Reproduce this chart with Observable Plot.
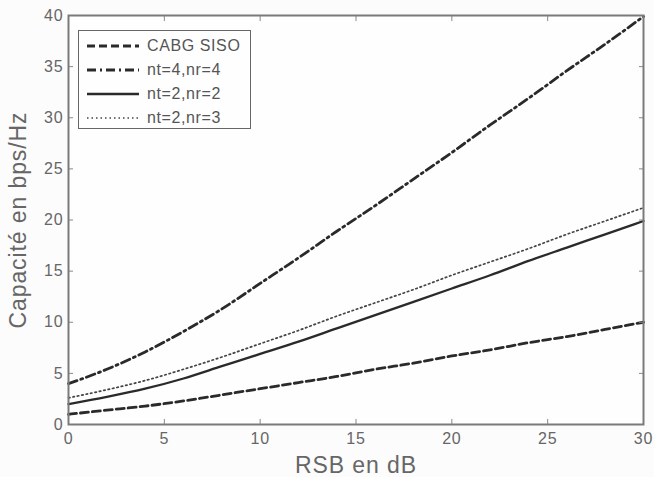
<!DOCTYPE html>
<html>
<head>
<meta charset="utf-8">
<script src="https://cdn.jsdelivr.net/npm/d3@7"></script>
<script src="https://cdn.jsdelivr.net/npm/@observablehq/plot@0.6"></script>
<style>
  html, body { margin: 0; padding: 0; background: #fcfcfc; }
  #wrap { position: relative; width: 654px; height: 477px; }
  #wrap svg { font-family: "Liberation Sans", Arial, sans-serif; }
  g[aria-label="y-axis tick label"] text, g[aria-label="x-axis tick label"] text { letter-spacing: 0.8px; }
  g[aria-label="y-axis label"] text, g[aria-label="x-axis label"] text { font-size: 23px; letter-spacing: 0.9px; }
  #legend {
    position: absolute; left: 78px; top: 30px; width: 171px; height: 97px;
    border: 1px solid #666; background: #fefefe;
    font-family: "Liberation Sans", Arial, sans-serif; font-size: 16px; letter-spacing: 0.6px; color: #555;
  }
  #legend .row { position: absolute; left: 8px; height: 20px; display: flex; align-items: center; }
  #legend svg { width: 52px; height: 8px; margin-right: 8px; }
</style>
</head>
<body>
<div id="wrap"></div>
<script>
// SNR (dB)
const snr = [0, 2, 4, 6, 8, 10, 12, 14, 16, 18, 20, 22, 24, 26, 28, 30];
// Capacities (bps/Hz)
const cabgSiso = [1.0, 1.4, 1.8, 2.3, 2.9, 3.5, 4.1, 4.7, 5.4, 6.0, 6.7, 7.3, 8.0, 8.6, 9.3, 10.0];
const nt4nr4   = [4.0, 5.4, 7.1, 9.1, 11.3, 13.8, 16.3, 18.9, 21.4, 24.0, 26.6, 29.3, 31.9, 34.6, 37.2, 39.9];
const nt2nr2   = [2.0, 2.7, 3.5, 4.5, 5.7, 6.9, 8.1, 9.4, 10.7, 12.0, 13.3, 14.6, 16.0, 17.3, 18.6, 19.9];
const nt2nr3   = [2.6, 3.4, 4.3, 5.4, 6.6, 7.9, 9.2, 10.6, 11.9, 13.2, 14.6, 15.9, 17.2, 18.6, 19.9, 21.2];
const seriesNames = ["CABG SISO", "nt=4,nr=4", "nt=2,nr=2", "nt=2,nr=3"];
const xTicks = [0, 5, 10, 15, 20, 25, 30];
const yTicks = [0, 5, 10, 15, 20, 25, 30, 35, 40];

const seriesValues = [cabgSiso, nt4nr4, nt2nr2, nt2nr3];
const styles = [
  {stroke: "#2a2a2a", strokeWidth: 2.8, strokeDasharray: "8,4"},
  {stroke: "#2a2a2a", strokeWidth: 2.8, strokeDasharray: "9,4,2,4"},
  {stroke: "#2a2a2a", strokeWidth: 2.3, strokeDasharray: null},
  {stroke: "#444", strokeWidth: 1.7, strokeDasharray: "1.5,3"}
];
const table = (vals) => snr.map((x, i) => ({x, y: vals[i]}));

const lineMarks = seriesValues.map((vals, k) => {
  const {strokeDasharray, ...rest} = styles[k];
  return Plot.line(table(vals), {x: "x", y: "y", curve: "monotone-x", ...rest,
    ...(strokeDasharray ? {strokeDasharray} : {})});
});

const tickColor = "#888";
const chart = Plot.plot({
  width: 654,
  height: 477,
  marginLeft: 68,
  marginRight: 11,
  marginTop: 15,
  marginBottom: 53,
  style: {background: "transparent", color: "#666", fontSize: "16px", fontFamily: "Liberation Sans, Arial, sans-serif"},
  x: {domain: [0, 30]},
  y: {domain: [0, 40]},
  marks: [
    Plot.frame({fill: "#fefefe"}),
    ...lineMarks,
    // tick labels + axis titles
    Plot.axisX(xTicks, {anchor: "bottom", tickSize: 0, tickPadding: 8, fontSize: 16, label: "RSB en dB", labelAnchor: "center", labelArrow: "none", labelOffset: 48}),
    Plot.axisY(yTicks, {anchor: "left", tickSize: 0, tickPadding: 5, fontSize: 16, label: "Capacité en bps/Hz", labelAnchor: "center", labelArrow: "none", labelOffset: 59}),
    // inward tick marks on all four sides
    Plot.axisX(xTicks, {anchor: "bottom", tickSize: 5, dy: -5, tickFormat: () => "", label: null, stroke: tickColor}),
    Plot.axisX(xTicks, {anchor: "top", tickSize: 5, dy: 5, tickFormat: () => "", label: null, stroke: tickColor}),
    Plot.axisY(yTicks, {anchor: "left", tickSize: 5, dx: 5, tickFormat: () => "", label: null, stroke: tickColor}),
    Plot.axisY(yTicks, {anchor: "right", tickSize: 5, dx: -5, tickFormat: () => "", label: null, stroke: tickColor}),
    Plot.frame({stroke: "#7a7a7a", strokeWidth: 2})
  ]
});
const wrap = document.getElementById("wrap");
wrap.appendChild(chart);

// Legend
const legend = document.createElement("div");
legend.id = "legend";
seriesNames.forEach((name, k) => {
  const row = document.createElement("div");
  row.className = "row";
  row.style.top = (5 + k * 24) + "px";
  const st = styles[k];
  row.innerHTML = `<svg viewBox="0 0 52 8"><line x1="0" y1="4" x2="52" y2="4" stroke="${st.stroke}" stroke-width="${st.strokeWidth}" ${st.strokeDasharray ? `stroke-dasharray="${st.strokeDasharray}"` : ""}/></svg><span>${name}</span>`;
  legend.appendChild(row);
});
wrap.appendChild(legend);
</script>
</body>
</html>
